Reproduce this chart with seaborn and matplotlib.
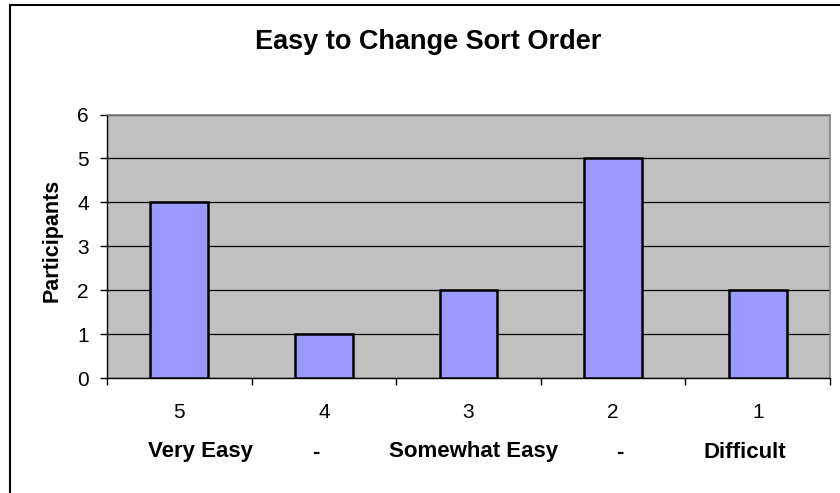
import pandas as pd
import matplotlib.pyplot as plt
import matplotlib.patches as mpatches
import seaborn as sns

# Data
ratings = ['5', '4', '3', '2', '1']
participants = [4, 1, 2, 5, 2]
descriptions = ['Very Easy', '-', 'Somewhat Easy', '-', 'Difficult']
# horizontal centres (px) of the description row, as laid out in the original
desc_x = [200, 316, 474, 620, 745]

df = pd.DataFrame({'rating': ratings, 'participants': participants})

sns.set_theme(style='white')
plt.rcParams['font.family'] = ['Liberation Sans', 'DejaVu Sans']
plt.rcParams['text.color'] = 'black'
plt.rcParams['xtick.color'] = 'black'
plt.rcParams['ytick.color'] = 'black'
plt.rcParams['axes.labelcolor'] = 'black'

fig = plt.figure(figsize=(8.4, 4.93), dpi=100)
ax = fig.add_axes([107 / 840, 1 - 378 / 493, (830 - 107) / 840, (378 - 114.5) / 493])

# outer chart border (runs off the right and bottom edges)
fig.patches.append(mpatches.Rectangle((10 / 840, -0.1), 1.0, 1 - 5 / 493 + 0.1,
                                      transform=fig.transFigure, fill=False,
                                      edgecolor='black', linewidth=1.5))

ax.set_facecolor('#C0C0C0')
sns.barplot(data=df, x='rating', y='participants', order=ratings, color='#9999FF',
            width=0.4, edgecolor='black', linewidth=1.8, saturation=1, ax=ax, zorder=3)

ax.set_ylim(0, 6)
ax.set_xlim(-0.5, 4.5)
ax.set_yticks(range(0, 7))
ax.yaxis.grid(True, color='black', linewidth=0.9)
ax.set_axisbelow(True)

for s in ['top', 'right']:
    ax.spines[s].set_color('#808080')
    ax.spines[s].set_linewidth(1.2)
for s in ['left', 'bottom']:
    ax.spines[s].set_color('black')
    ax.spines[s].set_linewidth(1.0)

# ticks between categories, labels at centres
ax.set_xticks([i - 0.5 for i in range(len(ratings) + 1)])
ax.set_xticklabels([])
ax.set_xticks(range(len(ratings)), minor=True)
ax.set_xticklabels(ratings, minor=True, fontsize=15)
ax.tick_params(axis='x', which='major', direction='out', length=5, width=1, bottom=True)
ax.tick_params(axis='x', which='minor', length=0, pad=18)
ax.tick_params(axis='y', direction='out', length=5, width=1, left=True, labelsize=15, pad=8)

for x, d in zip(desc_x, descriptions):
    fig.text(x / 840, 1 - 452 / 493, d, ha='center', va='center',
             fontsize=16, fontweight='bold')

ax.set_xlabel('')
ax.set_ylabel('')
fig.text(52 / 840, 1 - 240 / 493, 'Participants', rotation=90, ha='center', va='center',
         fontsize=15.5, fontweight='bold')
fig.text(428 / 840, 1 - 42 / 493, 'Easy to Change Sort Order',
         ha='center', va='center', fontsize=19.5, fontweight='bold')

fig.savefig('out.png', dpi=100)
